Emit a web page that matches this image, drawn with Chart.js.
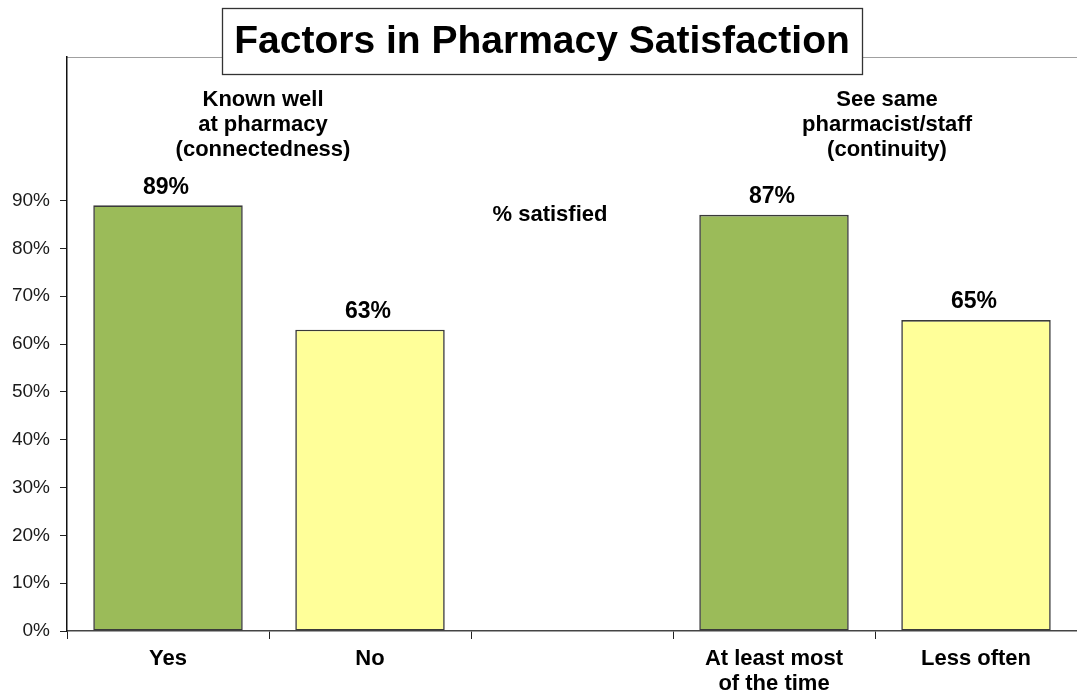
<!DOCTYPE html>
<html>
<head>
<meta charset="utf-8">
<script src="https://cdn.jsdelivr.net/npm/chart.js@4"></script>
<style>
  body { margin: 0; background: #fff; }
  #wrap { width: 1077px; height: 694px; position: relative; }
</style>
</head>
<body>
<div id="wrap"><canvas id="chart"></canvas></div>
<script>
// chart values
const categories = ["Yes", "No", "", ["At least most", "of the time"], "Less often"];
const satisfied = [89, 63, null, 87, 65];
const barColors = ["#9BBB59", "#FFFF99", "#FFFFFF", "#9BBB59", "#FFFF99"];
const yTicks = [0, 10, 20, 30, 40, 50, 60, 70, 80, 90];
const groupTitles = [
    ["Known well", "at pharmacy", "(connectedness)"],
    ["See same", "pharmacist/staff", "(continuity)"]
];
const chartTitle = "Factors in Pharmacy Satisfaction";
const seriesNote = "% satisfied";

const FONT = "'Liberation Sans', Arial, sans-serif";

const overlay = {
    id: "overlay",
    beforeDraw(chart) {
        const c = chart.ctx, a = chart.chartArea;
        c.save();
        c.strokeStyle = "#a0a0a0";
        c.lineWidth = 1;
        c.beginPath();
        c.moveTo(a.left, a.top + 0.5);
        c.lineTo(a.right, a.top + 0.5);
        c.stroke();
        c.restore();
    },
    afterDraw(chart) {
        const c = chart.ctx;
        const x = chart.scales.x, y = chart.scales.y;
        const meta = chart.getDatasetMeta(0);
        c.save();
        c.fillStyle = "#000";
        c.textAlign = "center";
        c.textBaseline = "middle";

        // value labels
        c.font = "bold 23px " + FONT;
        satisfied.forEach((v, i) => {
            if (v == null) return;
            const bar = meta.data[i];
            c.fillText(v + "%", bar.x - 2, bar.y - 18);
        });

        // group headings, centred between the two bars of each group
        c.font = "bold 22px " + FONT;
        const gx = [
            (x.getPixelForValue(0) + x.getPixelForValue(1)) / 2 - 6,
            (x.getPixelForValue(3) + x.getPixelForValue(4)) / 2 + 12
        ];
        groupTitles.forEach((lines, g) => {
            lines.forEach((t, k) => c.fillText(t, gx[g], 100 + k * 25));
        });

        c.font = "bold 22px " + FONT;
        c.fillText(seriesNote, x.getPixelForValue(2) - 22, y.getPixelForValue(87));

        // title box
        c.font = "bold 39px " + FONT;
        const bx = 222, by = 8, bw = 640, bh = 66;
        c.fillStyle = "#fff";
        c.fillRect(bx, by, bw, bh);
        c.strokeStyle = "#333";
        c.lineWidth = 1.3;
        c.strokeRect(bx + 0.5, by + 0.5, bw, bh);
        c.fillStyle = "#000";
        c.fillText(chartTitle, bx + bw / 2, by + bh / 2 + 1);
        c.restore();
    }
};

new Chart(document.getElementById("chart"), {
    type: "bar",
    data: {
        labels: categories,
        datasets: [{
            data: satisfied,
            backgroundColor: barColors,
            borderColor: "#3a3a3a",
            borderWidth: 1.6,
            borderSkipped: false,
            barPercentage: 0.74,
            categoryPercentage: 1
        }]
    },
    options: {
        responsive: true,
        maintainAspectRatio: false,
        animation: false,
        layout: { padding: { top: 57, right: 0, left: 0, bottom: 0 } },
        plugins: { legend: { display: false }, tooltip: { enabled: false } },
        scales: {
            x: {
                afterFit(s) { s.height = 63; },
                grid: {
                    offset: true,
                    drawOnChartArea: false,
                    tickLength: 8,
                    color: "#222"
                },
                border: { color: "#444", width: 1.5 },
                ticks: {
                    padding: 7,
                    color: "#000",
                    font: { family: FONT, size: 22, weight: "bold", lineHeight: 1.15 },
                    maxRotation: 0,
                    autoSkip: false
                }
            },
            y: {
                min: 0,
                max: 120,
                afterFit(s) { s.width = 67; },
                afterBuildTicks(s) { s.ticks = yTicks.map(v => ({ value: v })); },
                grid: {
                    drawOnChartArea: false,
                    tickLength: 7,
                    color: "#222"
                },
                border: { color: "#111", width: 1.5 },
                ticks: {
                    padding: 10,
                    color: "#1a1a1a",
                    font: { family: FONT, size: 19 },
                    callback: v => v + "%"
                }
            }
        }
    },
    plugins: [overlay]
});
</script>
</body>
</html>
